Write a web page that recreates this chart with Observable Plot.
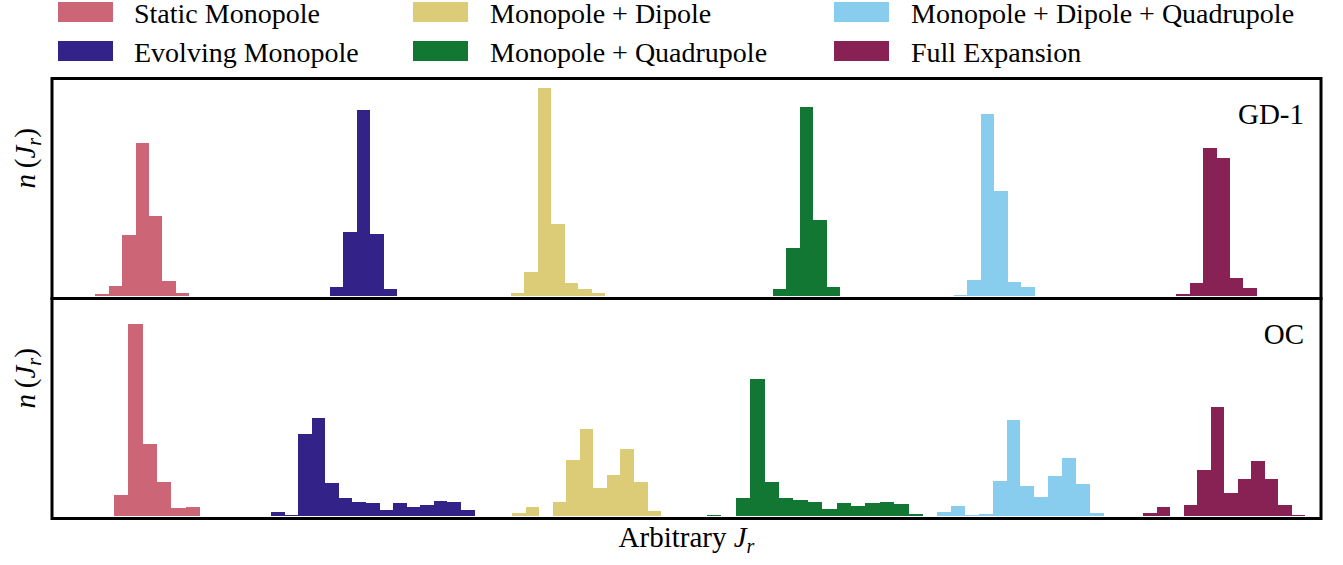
<!DOCTYPE html>
<html><head><meta charset="utf-8">
<script src="https://cdn.jsdelivr.net/npm/d3@7"></script>
<script src="https://cdn.jsdelivr.net/npm/@observablehq/plot@0.6"></script>
<style>
html,body{margin:0;padding:0;background:#fff;}
#legend{position:relative;width:1343px;height:72px;font-family:"Liberation Serif","Times New Roman",Times,"DejaVu Serif",serif;font-size:28px;color:#000;}
.sw{position:absolute;width:55px;height:20px;}
.lb{position:absolute;line-height:28px;white-space:nowrap;}
</style></head><body>
<div id="legend"></div><div id="chart"></div>
<script>
// ---- data ----
const seriesNames = ["Static Monopole", "Evolving Monopole", "Monopole + Dipole",
  "Monopole + Quadrupole", "Monopole + Dipole + Quadrupole", "Full Expansion"];
const seriesColors = ["#CC6677", "#332288", "#DDCC77", "#117733", "#88CCEE", "#882255"];
const panels = ["GD-1", "OC"];

// GD-1 histograms: first bin edge, bin width (arbitrary J_r units), counts
const gd1Start = [3.05, 26.45, 45.95, 70.75, 90.25, 111.15];
const gd1Width = [1.3375, 1.35, 1.343, 1.35, 1.343, 1.3375];
const gd1Counts = [
  [0.5, 2, 10, 61, 153, 80, 15, 3],
  [0.5, 9, 64, 186, 62, 7],
  [3, 24, 208, 72, 13, 7, 3],
  [0.5, 7, 48, 189, 76, 9],
  [1, 16, 182, 105, 14, 9, 0.5],
  [0.5, 2, 13, 148, 138, 18, 8, 0.5]
];

// OC histograms
const ocStart = [6.25, 21.95, 46.05, 65.55, 88.55, 109.15];
const ocWidth = [1.433, 1.357, 1.355, 1.44, 1.39, 1.35];
const ocCounts = [
  [21, 192, 72, 34, 8, 9],
  [4, 1.3, 82, 98, 33, 18, 14, 13, 6, 13, 9, 11, 15, 14, 6],
  [3, 9, 0, 14, 56, 87, 28, 41, 67, 34, 5],
  [1.3, 0, 18, 137, 34, 18, 16, 14, 7, 13, 10, 13, 14, 12, 2],
  [4, 10, 0.7, 2, 35, 96, 30, 19, 40, 58, 32, 3],
  [3, 9, 0, 11, 46, 109, 23, 37, 55, 37, 11, 1]
];

// ---- build bin table ----
const rows = [];
function addPanel(panel, starts, widths, counts) {
  counts.forEach((arr, s) => {
    arr.forEach((n, k) => {
      if (n <= 0) return;
      rows.push({panel, series: seriesNames[s],
        x1: starts[s] + k * widths[s], x2: starts[s] + (k + 1) * widths[s], n});
    });
  });
}
addPanel("GD-1", gd1Start, gd1Width, gd1Counts);
addPanel("OC", ocStart, ocWidth, ocCounts);

// ---- legend ----
const legend = document.getElementById("legend");
const swLeft = [58, 413, 834], lbLeft = [134, 490, 911];
const swTop = [2, 41], lbTop = [-0.5, 38.5];
seriesNames.forEach((name, i) => {
  const c = Math.floor(i / 2), r = i % 2;
  const sw = document.createElement("div");
  sw.className = "sw";
  sw.style.left = swLeft[c] + "px"; sw.style.top = swTop[r] + "px";
  sw.style.background = seriesColors[i];
  legend.appendChild(sw);
  const lb = document.createElement("div");
  lb.className = "lb";
  lb.style.left = lbLeft[c] + "px"; lb.style.top = lbTop[r] + "px";
  lb.textContent = name;
  legend.appendChild(lb);
});

// ---- chart ----
const font = "'Liberation Serif', 'Times New Roman', Times, 'DejaVu Serif', serif";
const plot = Plot.plot({
  width: 1343,
  height: 493,
  marginLeft: 51.5,
  marginRight: 22.5,
  marginTop: 5.5,
  marginBottom: 46.5,
  style: {fontFamily: font, background: "white", color: "#000"},
  x: {domain: [0, 126.9], axis: null},
  y: {domain: [-2, 218.5], axis: null},
  fy: {domain: panels, padding: 0, axis: null},
  color: {domain: seriesNames, range: seriesColors},
  marks: [
    Plot.rectY(rows, {x1: "x1", x2: "x2", y: "n", fy: "panel", fill: "series", shapeRendering: "crispEdges"}),
    Plot.frame({stroke: "black", strokeWidth: 3}),
    Plot.text(panels, {fy: d => d, text: d => d, frameAnchor: "top-right", textAnchor: "end",
      lineAnchor: "bottom", dx: -17, dy: 45.5, fontSize: 29, fontFamily: font, fill: "#000"}),
    Plot.text(panels, {fy: d => d, text: () => "n(J_r)", frameAnchor: "left", rotate: -90,
      lineAnchor: "middle", dx: -26, fontSize: 29, fontFamily: font, fill: "#000"}),
    Plot.text(["OC"], {fy: d => d, text: () => "Arbitrary J_r", frameAnchor: "bottom",
      lineAnchor: "bottom", dy: 28.5, fontSize: 29, fontFamily: font, fill: "#000"})
  ]
});
document.getElementById("chart").appendChild(plot);

// rich text: italic math symbols and subscript
d3.select(plot).selectAll("text").each(function () {
  const t = this.textContent;
  let parts = null;
  if (t === "n(J_r)") parts = [["n", 1], ["\u2009(", 0], ["J", 1], ["r", 2], [")", 0]];
  else if (t === "Arbitrary J_r") parts = [["Arbitrary ", 0], ["J", 1], ["r", 2]];
  if (!parts) return;
  const el = d3.select(this);
  el.text(null);
  let shifted = false;
  parts.forEach(([s, k]) => {
    const ts = el.append("tspan").text(s);
    if (k >= 1) ts.attr("font-style", "italic");
    if (k === 2) { ts.attr("font-size", "20px").attr("dy", "6px"); shifted = true; }
    else if (shifted) { ts.attr("dy", "-6px"); shifted = false; }
  });
});
</script>
</body></html>
